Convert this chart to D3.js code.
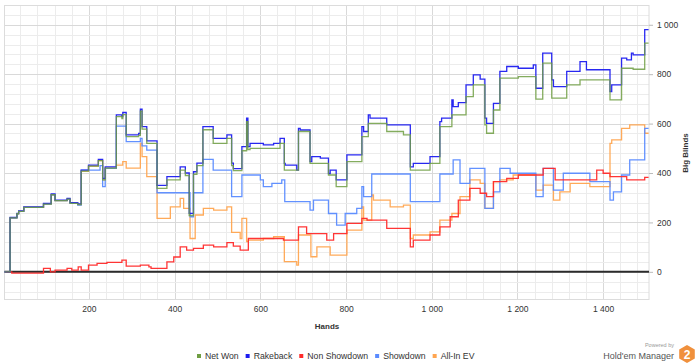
<!DOCTYPE html>
<html>
<head>
<meta charset="utf-8">
<script src="https://cdn.jsdelivr.net/npm/d3@7"></script>
<style>
  body { margin: 0; background: #fff; }
  text { font-family: "Liberation Sans", Arial, sans-serif; fill: #333; }
</style>
</head>
<body>
<div id="chart"></div>
<script>
var svgWidth = 700;
var svgHeight = 363;

// plot box (axis on the right)
var plot = { left: 4.5, right: 649, top: 5.5, bottom: 299.5 };

// series names / colours for the legend
var seriesNames = ["Net Won", "Rakeback", "Non Showdown", "Showdown", "All-In EV"];
var seriesColors = ["#6f9e42", "#1c1cf0", "#ff2a2a", "#5a8bff", "#ffa550"];

var xTicks = [200, 400, 600, 800, 1000, 1200, 1400];
var yTicks = [0, 200, 400, 600, 800, 1000];

// [hand, big blinds] step points
var netWon = [[3,0],[16,218],[32,235],[36,245],[48,261],[94,274],[112,312],[121,288],[149,294],[156,277],[174,272],
  [182,408],[199,428],[222,450],[232,372],[238,420],[264,628],[277,620],[279,636],[287,547],[316,552],[320,650],
  [324,578],[335,520],[359,338],[382,372],[413,412],[425,390],[434,228],[444,395],[452,430],[466,575],[490,520],
  [522,540],[533,430],[537,410],[557,490],[568,608],[571,495],[576,500],[646,520],[656,412],[689,568],[716,439],
  [759,392],[777,345],[802,446],[837,547],[852,601],[895,568],[934,554],[950,412],[996,439],[1019,588],[1047,635],
  [1080,709],[1097,757],[1124,595],[1128,561],[1144,655],[1159,784],[1202,790],[1243,699],[1259,845],[1280,703],
  [1315,757],[1346,777],[1416,696],[1443,824],[1470,820],[1497,926],[1506,926]];

var rakeback = [[3,0],[16,220],[32,237],[36,247],[48,263],[94,277],[112,315],[121,290],[149,297],[156,280],[174,275],
  [182,412],[199,432],[222,455],[232,378],[238,425],[264,635],[277,628],[279,645],[287,554],[316,560],[320,658],
  [324,588],[335,530],[359,350],[382,385],[413,425],[425,400],[434,237],[444,405],[452,440],[466,588],[490,540],
  [522,554],[533,440],[537,418],[557,507],[568,622],[571,507],[576,520],[607,514],[631,520],[646,540],[656,439],
  [658,432],[685,412],[689,581],[693,574],[716,446],[720,466],[740,460],[759,398],[763,412],[777,372],[802,473],
  [837,588],[841,568],[852,635],[856,622],[895,595],[934,595],[950,425],[957,439],[996,466],[1019,608],[1023,622],
  [1047,696],[1050,669],[1062,685],[1080,757],[1097,797],[1113,780],[1124,622],[1128,601],[1144,682],[1159,811],
  [1175,831],[1202,824],[1237,838],[1243,743],[1259,885],[1280,777],[1284,750],[1315,811],[1346,851],[1361,818],
  [1416,730],[1420,757],[1443,865],[1455,858],[1466,885],[1470,878],[1497,980],[1506,980]];

var nonShowdown = [[5,0],[20,-5],[94,14],[110,0],[121,7],[149,14],[160,7],[175,20],[182,7],[199,27],[219,34],
  [242,38],[277,47],[287,23],[320,27],[340,20],[345,14],[382,40],[398,60],[413,101],[428,88],[444,95],[467,108],
  [491,101],[522,118],[537,104],[553,88],[572,135],[654,128],[689,182],[708,155],[755,128],[771,155],[802,196],
  [837,216],[849,209],[895,176],[950,101],[957,128],[996,149],[1019,182],[1043,223],[1062,290],[1089,338],
  [1113,318],[1128,304],[1144,365],[1175,378],[1202,392],[1260,419],[1288,372],[1385,412],[1400,399],[1416,385],
  [1455,372],[1497,382],[1506,382]];

var showdown = [[3,0],[16,218],[32,235],[36,245],[48,261],[94,274],[112,312],[121,288],[149,294],[156,277],[174,270],
  [182,412],[226,430],[232,345],[238,419],[264,590],[287,527],[320,540],[324,510],[335,493],[359,320],[436,223],
  [444,320],[466,455],[490,412],[533,304],[557,392],[600,372],[607,345],[627,358],[650,372],[657,284],[716,250],
  [724,290],[759,236],[778,189],[798,236],[825,257],[837,345],[841,304],[860,396],[950,284],[1019,396],[1050,453],
  [1066,358],[1089,419],[1124,257],[1144,324],[1159,419],[1183,399],[1243,304],[1260,419],[1284,331],[1307,399],
  [1369,365],[1416,290],[1424,324],[1443,392],[1462,453],[1497,581],[1506,581]];

var allInEV = [[3,0],[16,218],[32,235],[36,245],[48,261],[94,274],[112,312],[121,288],[149,294],[156,277],[174,272],
  [182,408],[199,428],[222,450],[232,372],[238,420],[264,432],[279,446],[287,420],[320,520],[324,466],[335,385],
  [359,216],[390,263],[413,297],[421,257],[436,135],[448,230],[467,257],[491,250],[522,263],[533,160],[553,135],
  [557,216],[568,122],[572,128],[607,135],[631,142],[656,41],[685,27],[689,149],[718,61],[732,101],[763,68],
  [802,169],[837,263],[841,209],[860,311],[864,290],[903,263],[934,270],[950,135],[957,149],[996,162],[1019,209],
  [1047,236],[1066,304],[1089,372],[1113,358],[1124,257],[1144,365],[1159,372],[1190,392],[1243,331],[1260,351],
  [1284,290],[1299,324],[1323,358],[1369,345],[1416,520],[1420,534],[1443,581],[1462,595],[1497,561],[1506,561]];

var seriesData = [netWon, rakeback, nonShowdown, showdown, allInEV];

var svg = d3.select("#chart")
  .append("svg")
  .attr("width", svgWidth)
  .attr("height", svgHeight);

svg.append("rect").attr("width", svgWidth).attr("height", svgHeight).attr("fill", "#fff");

var xScale = d3.scaleLinear().domain([3, 1507]).range([plot.left, plot.right]);
var yScale = d3.scaleLinear().domain([-112, 1078]).range([plot.bottom, plot.top]);

// grid: minor every 40, major every 200
var grid = svg.append("g");
grid.selectAll(".vminor")
  .data(d3.range(40, 1507, 40))
  .enter().append("line")
  .attr("x1", d => Math.round(xScale(d)) + 0.5).attr("x2", d => Math.round(xScale(d)) + 0.5)
  .attr("y1", plot.top).attr("y2", plot.bottom)
  .attr("stroke", d => d % 200 === 0 ? "#d9d9d9" : "#ececec");
grid.selectAll(".hminor")
  .data(d3.range(-80, 1078, 40))
  .enter().append("line")
  .attr("y1", d => Math.round(yScale(d)) + 0.5).attr("y2", d => Math.round(yScale(d)) + 0.5)
  .attr("x1", plot.left).attr("x2", plot.right)
  .attr("stroke", d => d % 200 === 0 ? "#d9d9d9" : "#ececec");

svg.append("rect")
  .attr("x", plot.left).attr("y", plot.top)
  .attr("width", plot.right - plot.left).attr("height", plot.bottom - plot.top)
  .attr("fill", "none").attr("stroke", "#dcdcdc");

// axes
var fmt = d => d3.format(",")(d).replace(",", " ");

var xAxis = svg.append("g")
  .attr("transform", `translate(0, ${plot.bottom})`)
  .call(d3.axisBottom(xScale).tickValues(xTicks).tickFormat(fmt).tickSize(0).tickPadding(6));
xAxis.select(".domain").remove();
xAxis.selectAll("text").style("font-size", "8.5px").attr("fill", "#333");

var yAxis = svg.append("g")
  .attr("transform", `translate(${plot.right}, 0)`)
  .call(d3.axisRight(yScale).tickValues(yTicks).tickFormat(fmt).tickSize(4).tickPadding(4));
yAxis.select(".domain").remove();
yAxis.selectAll("line").attr("stroke", "#bbb");
yAxis.selectAll("text").style("font-size", "8.5px").attr("fill", "#333");

svg.append("text")
  .attr("x", 327).attr("y", 329)
  .attr("text-anchor", "middle")
  .style("font-size", "8px").style("font-weight", "bold")
  .text("Hands");

svg.append("text")
  .attr("transform", "translate(688, 153) rotate(-90)")
  .attr("text-anchor", "middle")
  .style("font-size", "8px").style("font-weight", "bold")
  .text("Big Blinds");

// zero line
svg.append("line")
  .attr("x1", plot.left).attr("x2", plot.right)
  .attr("y1", yScale(0)).attr("y2", yScale(0))
  .attr("stroke", "#2b2b2b").attr("stroke-width", 2);

// series lines
var line = d3.line()
  .x(d => xScale(d[0]))
  .y(d => yScale(d[1]))
  .curve(d3.curveStepAfter);

var drawOrder = [4, 3, 2, 1, 0];
drawOrder.forEach(function(i) {
  svg.append("path")
    .datum(seriesData[i])
    .attr("d", line)
    .attr("fill", "none")
    .attr("stroke", seriesColors[i])
    .attr("stroke-width", 1.3)
    .attr("stroke-opacity", i === 0 ? 0.85 : 0.95);
});

// legend
var legend = svg.append("g").attr("transform", "translate(0, 356)");
var lx = 197;
seriesNames.forEach(function(name, i) {
  legend.append("rect")
    .attr("x", lx).attr("y", -2).attr("width", 4).attr("height", 4)
    .attr("fill", seriesColors[i]);
  var t = legend.append("text")
    .attr("x", lx + 8).attr("y", 3)
    .style("font-size", "8.7px")
    .text(name);
  lx += 8 + t.node().getComputedTextLength() + 7;
});

// branding
svg.append("text")
  .attr("x", 674).attr("y", 347)
  .attr("text-anchor", "end")
  .style("font-size", "5.5px")
  .style("fill", "#999")
  .text("Powered by");
svg.append("text")
  .attr("x", 674).attr("y", 359)
  .attr("text-anchor", "end")
  .style("font-size", "9px")
  .style("fill", "#555")
  .text("Hold'em Manager");

var hex = d3.range(6).map(function(k) {
  var a = Math.PI / 3 * k + Math.PI / 6;
  return [687 + 9 * Math.cos(a), 354 + 9 * Math.sin(a)];
});
svg.append("polygon")
  .attr("points", hex.map(p => p.join(",")).join(" "))
  .attr("fill", "#f0903c");
svg.append("text")
  .attr("x", 687).attr("y", 358.5)
  .attr("text-anchor", "middle")
  .style("font-size", "12px").style("font-weight", "bold")
  .style("fill", "#fff")
  .text("2");
</script>
</body>
</html>
